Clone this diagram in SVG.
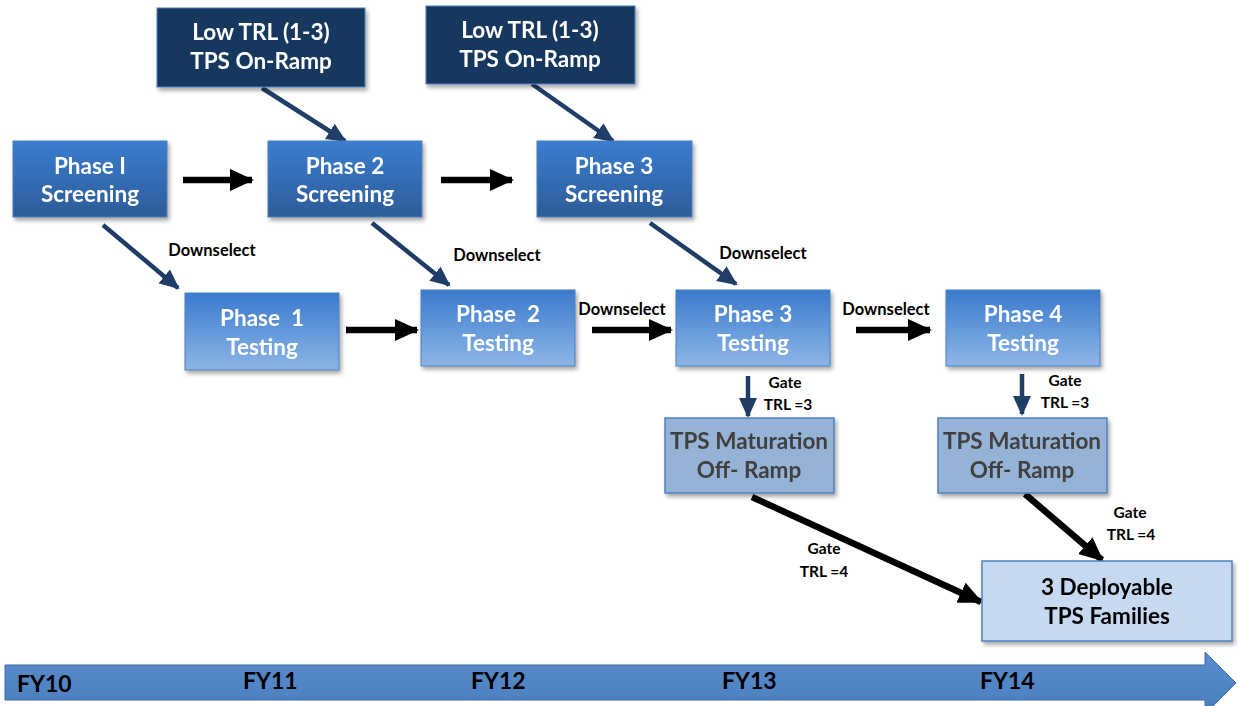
<svg xmlns="http://www.w3.org/2000/svg" width="1238" height="706" viewBox="0 0 1238 706">
<style>
.t{font-family:Lato,"Open Sans","Liberation Sans",sans-serif;font-weight:700;text-anchor:middle}
.w{fill:#fff;font-size:22.5px}
.g{fill:#404040;font-size:22.5px}
.k{fill:#000;font-size:22.5px}
.s{fill:#000;font-size:16.5px}
.q{fill:#000;font-size:15.5px}
.fy{fill:#000;font-size:23px;text-anchor:start}
.navy{fill:#17375e;stroke:#4f81bd;stroke-width:1}
.scr{fill:url(#gScr);stroke:#4a7ebb;stroke-width:1}
.tst{fill:url(#gTst);stroke:#4a7ebb;stroke-width:1}
.mat{fill:#95b3d7;stroke:#4f81bd;stroke-width:1.5}
.dep{fill:#c6d9f1;stroke:#4f81bd;stroke-width:1.5}
.ab{stroke:#000;stroke-width:6.5;fill:none}
.an{stroke:#1f3d66;stroke-width:4.5;fill:none}
</style>
<defs>
<linearGradient id="gScr" x1="0" y1="0" x2="0" y2="1"><stop offset="0" stop-color="#3b7dd0"/><stop offset="1" stop-color="#2d5c98"/></linearGradient>
<linearGradient id="gTst" x1="0" y1="0" x2="0" y2="1"><stop offset="0" stop-color="#3a7acd"/><stop offset="1" stop-color="#8db6e6"/></linearGradient>
<linearGradient id="gTl" x1="0" y1="0" x2="0" y2="1"><stop offset="0" stop-color="#5a8ccc"/><stop offset="1" stop-color="#4a7ebb"/></linearGradient>
<filter id="sh" x="-10%" y="-10%" width="130%" height="130%"><feDropShadow dx="2" dy="3" stdDeviation="2" flood-color="#000" flood-opacity="0.35"/></filter>
<marker id="mb" markerUnits="userSpaceOnUse" markerWidth="26" markerHeight="26" refX="22" refY="13" orient="auto"><path d="M0,2 L24,13 L0,24 Z" fill="#000"/></marker>
<marker id="mn" markerUnits="userSpaceOnUse" markerWidth="22" markerHeight="22" refX="18" refY="11" orient="auto"><path d="M0,2 L20,11 L0,20 Z" fill="#1f3d66"/></marker>
</defs>

<g id="timeline">
<path d="M5,665 L1205,665 L1205,652 L1236,683 L1205,714 L1205,700 L5,700 Z" fill="url(#gTl)" stroke="#3a6aa8" stroke-width="1"/>
<text class="t fy" x="17" y="692">FY10</text>
<text class="t fy" x="243" y="689">FY11</text>
<text class="t fy" x="471" y="689">FY12</text>
<text class="t fy" x="722" y="689">FY13</text>
<text class="t fy" x="980" y="689">FY14</text>
</g>

<g id="connectors">
<line class="ab" x1="183" y1="180" x2="252" y2="180" marker-end="url(#mb)"/>
<line class="ab" x1="441" y1="180" x2="512" y2="180" marker-end="url(#mb)"/>
<line class="ab" x1="346" y1="330" x2="417" y2="330" marker-end="url(#mb)"/>
<line class="ab" x1="592" y1="330" x2="671" y2="330" marker-end="url(#mb)"/>
<line class="ab" x1="856" y1="330" x2="930" y2="330" marker-end="url(#mb)"/>
<line class="an" x1="262" y1="88" x2="345" y2="141" marker-end="url(#mn)"/>
<line class="an" x1="532" y1="84" x2="613" y2="141" marker-end="url(#mn)"/>
<line class="an" x1="103" y1="225" x2="178" y2="288" marker-end="url(#mn)"/>
<line class="an" x1="372" y1="223" x2="449" y2="285" marker-end="url(#mn)"/>
<line class="an" x1="650" y1="223" x2="736" y2="284" marker-end="url(#mn)"/>
<line class="an" x1="748" y1="376" x2="748" y2="416" marker-end="url(#mn)"/>
<line class="an" x1="1022" y1="374" x2="1022" y2="414" marker-end="url(#mn)"/>
<line class="ab" x1="752" y1="497" x2="981" y2="602" marker-end="url(#mb)"/>
<line class="ab" x1="1025" y1="494" x2="1102" y2="560" marker-end="url(#mb)"/>
<text class="t s" x="212" y="256">Downselect</text>
<text class="t s" x="497" y="261">Downselect</text>
<text class="t s" x="763" y="259">Downselect</text>
<text class="t s" x="622" y="315">Downselect</text>
<text class="t s" x="886" y="315">Downselect</text>
<text class="t q" x="785" y="388">Gate</text>
<text class="t q" x="788" y="410">TRL =3</text>
<text class="t q" x="1065" y="386">Gate</text>
<text class="t q" x="1065" y="408">TRL =3</text>
<text class="t q" x="824" y="554">Gate</text>
<text class="t q" x="824" y="577">TRL =4</text>
<text class="t q" x="1130" y="518">Gate</text>
<text class="t q" x="1131" y="540">TRL =4</text>
</g>

<g id="onramp1" filter="url(#sh)"><rect class="navy" x="157" y="8" width="208" height="79"/><text class="t w" x="261" y="40">Low TRL (1-3)</text><text class="t w" x="261" y="69">TPS On-Ramp</text></g>
<g id="onramp2" filter="url(#sh)"><rect class="navy" x="426" y="6" width="209" height="78"/><text class="t w" x="530" y="38">Low TRL (1-3)</text><text class="t w" x="530" y="67">TPS On-Ramp</text></g>

<g id="screen1" filter="url(#sh)"><rect class="scr" x="13" y="141" width="154" height="76"/><text class="t w" x="90" y="174">Phase I</text><text class="t w" x="90" y="202">Screening</text></g>
<g id="screen2" filter="url(#sh)"><rect class="scr" x="268" y="141" width="154" height="76"/><text class="t w" x="345" y="174">Phase 2</text><text class="t w" x="345" y="202">Screening</text></g>
<g id="screen3" filter="url(#sh)"><rect class="scr" x="537" y="141" width="155" height="76"/><text class="t w" x="614" y="174">Phase 3</text><text class="t w" x="614" y="202">Screening</text></g>

<g id="test1" filter="url(#sh)"><rect class="tst" x="185" y="293" width="154" height="77"/><text class="t w" x="262" y="326" xml:space="preserve">Phase  1</text><text class="t w" x="262" y="355">Testing</text></g>
<g id="test2" filter="url(#sh)"><rect class="tst" x="421" y="290" width="154" height="76"/><text class="t w" x="498" y="322" xml:space="preserve">Phase  2</text><text class="t w" x="498" y="351">Testing</text></g>
<g id="test3" filter="url(#sh)"><rect class="tst" x="676" y="290" width="154" height="76"/><text class="t w" x="753" y="322">Phase 3</text><text class="t w" x="753" y="351">Testing</text></g>
<g id="test4" filter="url(#sh)"><rect class="tst" x="946" y="290" width="154" height="76"/><text class="t w" x="1023" y="322">Phase 4</text><text class="t w" x="1023" y="351">Testing</text></g>

<g id="mat1" filter="url(#sh)"><rect class="mat" x="665" y="418" width="169" height="75"/><text class="t g" x="749" y="449">TPS Maturation</text><text class="t g" x="749" y="478">Off- Ramp</text></g>
<g id="mat2" filter="url(#sh)"><rect class="mat" x="938" y="418" width="169" height="75"/><text class="t g" x="1022" y="449">TPS Maturation</text><text class="t g" x="1022" y="478">Off- Ramp</text></g>

<g id="deploy" filter="url(#sh)"><rect class="dep" x="982" y="561" width="250" height="80"/><text class="t k" x="1107" y="595">3 Deployable</text><text class="t k" x="1107" y="624">TPS Families</text></g>
</svg>
